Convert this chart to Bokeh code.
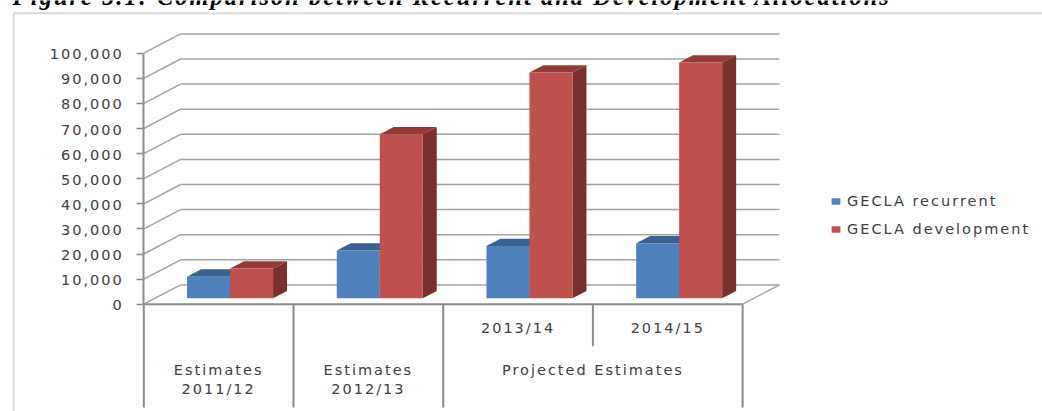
from bokeh.plotting import figure
from bokeh.models import LinearAxis, FixedTicker, Range1d, Legend, LegendItem, BoxAnnotation, Label
from bokeh.core.properties import value
from bokeh.embed import file_html
from bokeh.resources import INLINE

title_text = "Figure 5.1: Comparison between Recurrent and Development Allocations"
series_names = ["GECLA recurrent", "GECLA development"]
recurrent = [8600, 19000, 20800, 21900]
development = [11800, 65300, 89900, 93900]
y_ticks = [0, 10000, 20000, 30000, 40000, 50000, 60000, 70000, 80000, 90000, 100000]
y_tick_labels = ["0", "10,000", "20,000", "30,000", "40,000", "50,000", "60,000", "70,000", "80,000", "90,000", "100,000"]
category_rows = [["Estimates", "2011/12"], ["Estimates", "2012/13"]]
sub_labels = ["2013/14", "2014/15"]
group_label = "Projected Estimates"

W, H = 1042, 411
PX_X = 149.7          # px per category
PX_Y = 2.51 / 1000    # px per value unit
X0, Y0 = 143.3, 303.7 # pixel of the origin
DX = 36.8 / PX_X      # wall depth in x units
DY = 19.3 / PX_Y      # wall depth in y units
BAR_W = 43 / PX_X
D1, D2 = 0.31, 0.69   # bar depth span as a fraction of the wall depth

GRID = "#a3a3a3"
AXIS = "#8c8c8c"
TEXT = "#404040"
FONT = "DejaVu Sans"
FS = "14.5px"
LS = 2.0              # letter spacing, px

p = figure(width=W, height=H, output_backend="svg", toolbar_location=None,
           x_axis_location=None, y_axis_location=None, min_border=0,
           x_range=Range1d(-X0 / PX_X, (W - X0) / PX_X),
           y_range=Range1d(-(H - Y0) / PX_Y, Y0 / PX_Y))
p.grid.visible = False
p.outline_line_color = None
p.styles = {"position": "absolute", "left": "0", "top": "0", "letter-spacing": f"{LS}px"}

# outer chart border
p.add_layout(BoxAnnotation(left=13, right=W + 20, top=H - 12.7, bottom=-20,
                           left_units="screen", right_units="screen", top_units="screen", bottom_units="screen",
                           fill_alpha=0, line_color="#858585", line_width=2))

# walls
n = len(recurrent)
back_y = [v + DY for v in y_ticks]
p.segment([DX] * len(y_ticks), back_y, [n + DX] * len(y_ticks), back_y, line_color=GRID, line_width=1.5)
p.segment([0] * len(y_ticks), y_ticks, [DX] * len(y_ticks), back_y, line_color=GRID, line_width=1.5)
p.segment([n], [0], [n + DX], [DY], line_color=GRID, line_width=1.5)

# category separators
LOW = -(407 - Y0) / PX_Y
MID = -(345.7 - Y0) / PX_Y
edges = list(range(n + 1))
sep_low = [LOW, LOW, LOW, MID, LOW]
p.segment(edges, [0] * (n + 1), edges, sep_low, line_color=AXIS, line_width=2)
p.segment([0], [0], [n], [0], line_color=AXIS, line_width=2)


def bar(i, vals, side, face, top, darkside):
    fx, fy = DX * D1, DY * D1
    bx, by = DX * D2, DY * D2
    c = i + 0.5 + fx
    l, r = (c - BAR_W, c) if side == 0 else (c, c + BAR_W)
    v = vals[i]
    p.patch([r, r + bx - fx, r + bx - fx, r], [fy, by, v + by, v + fy],
            fill_color=darkside, line_color=None)
    p.patch([l, r, r + bx - fx, l + bx - fx], [v + fy, v + fy, v + by, v + by],
            fill_color=top, line_color=None)
    return p.quad(left=[l], right=[r], bottom=[fy], top=[v + fy], fill_color=face, line_color=None)


rs = []
for i in range(n):
    a = bar(i, recurrent, 0, "#4f81bd", "#3a618f", "#2f4f75")
    rs.append(a) if i == 0 else None
for i in range(n):
    b = bar(i, development, 1, "#c0504d", "#923c3a", "#7a302e")
    rs.append(b) if i == 0 else None

# y axis (labels drawn below so that letter-spaced text stays right-aligned)
ya = LinearAxis(fixed_location=0, bounds=(0, 100000), ticker=FixedTicker(ticks=y_ticks),
                major_label_overrides={t: "" for t in y_ticks},
                axis_line_color=AXIS, axis_line_width=2,
                major_tick_line_color=AXIS, major_tick_line_width=1.5,
                major_tick_in=0, major_tick_out=7, minor_tick_line_color=None)
p.add_layout(ya, "left")
p.text([0] * len(y_ticks), y_ticks, text=y_tick_labels,
       x_offset=[-20 - len(s) * LS for s in y_tick_labels], y_offset=[1] * len(y_ticks),
       text_font=value(FONT), text_font_size=value(FS), text_color=TEXT,
       text_align="right", text_baseline="middle")

# category labels
row1, row2, row0 = -(369 - Y0) / PX_Y, -(388 - Y0) / PX_Y, -(327.3 - Y0) / PX_Y
txt = dict(text_font=value(FONT), text_font_size=value(FS), text_color=TEXT,
           text_align="center", text_baseline="middle")


def centred(x, y, s):
    p.text([x], [y], text=[s], x_offset=[-len(s) * LS / 2], **txt)


for i, rows in enumerate(category_rows):
    centred(i + 0.5, row1, rows[0])
    centred(i + 0.5, row2, rows[1])
for i, s in enumerate(sub_labels):
    centred(i + 2.5, row0, s)
centred(3, row1, group_label)

legend = Legend(items=[LegendItem(label=series_names[0], renderers=[rs[0]]),
                       LegendItem(label=series_names[1], renderers=[rs[1]])],
                location=(830, H - 238), orientation="vertical",
                border_line_color=None, background_fill_alpha=0,
                glyph_width=11, glyph_height=8, label_standoff=6, spacing=10,
                label_text_font=FONT, label_text_font_size=FS, label_text_color=TEXT,
                margin=0, padding=0, label_height=18)
p.add_layout(legend, "center")

p.add_layout(Label(x=12, y=H + 4, x_units="screen", y_units="screen", text=title_text,
                   text_font="Liberation Serif", text_font_style="bold italic",
                   text_font_size="24.5px", text_color="#000000", text_baseline="alphabetic"))

open("out.html", "w").write(file_html(p, INLINE))
